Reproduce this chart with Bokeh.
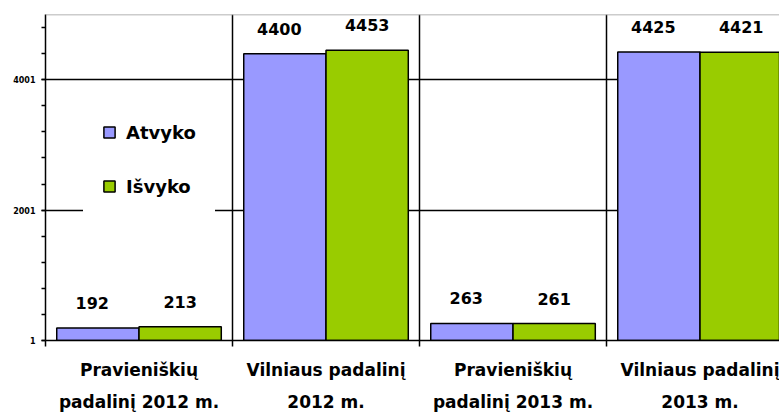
from bokeh.plotting import figure
from bokeh.models import (ColumnDataSource, FixedTicker, LinearAxis, Range1d,
                          Legend, LegendItem, Span)
from bokeh.transform import dodge
from bokeh.core.properties import value
from bokeh.embed import file_html
from bokeh.resources import INLINE

categories = ["Pravieniškių\npadalinį 2012 m.", "Vilniaus padalinį\n2012 m.",
              "Pravieniškių\npadalinį 2013 m.", "Vilniaus padalinį\n2013 m."]
atvyko = [192, 4400, 263, 4425]
isvyko = [213, 4453, 261, 4421]
series_names = ["Atvyko", "Išvyko"]
y_major_ticks = [1, 2001, 4001]
y_minor_step = 400
y_min, y_max = 1, 5001

FONT = "DejaVu Sans"
PURPLE = "#9999FF"
GREEN = "#99CC00"

xc = [i + 0.5 for i in range(len(categories))]
src = ColumnDataSource(dict(
    x=xc,
    atvyko=atvyko,
    isvyko=isvyko,
    atvyko_lbl=[str(v) for v in atvyko],
    isvyko_lbl=[str(v) for v in isvyko],
))

p = figure(width=779, height=414, output_backend="svg", toolbar_location=None,
           x_range=Range1d(0, 3.925), y_range=Range1d(y_min, y_max),
           x_axis_location=None, y_axis_location=None,
           min_border_left=45, min_border_right=0, min_border_top=14,
           min_border_bottom=74)
p.outline_line_color = None
p.background_fill_color = "white"
p.border_fill_color = "white"

bw = 0.44
r1 = p.vbar(x=dodge("x", -bw / 2, range=p.x_range), top="atvyko", bottom=y_min,
            width=bw, source=src, fill_color=PURPLE, line_color="black", line_width=1.5)
r2 = p.vbar(x=dodge("x", bw / 2, range=p.x_range), top="isvyko", bottom=y_min,
            width=bw, source=src, fill_color=GREEN, line_color="black", line_width=1.5)

p.text(x=dodge("x", -bw / 2 - 0.03, range=p.x_range), y="atvyko", text="atvyko_lbl",
       source=src, text_align="center", text_baseline="middle", y_offset=-25,
       text_font=value(FONT), text_font_style="bold", text_font_size="16px",
       text_color="black")
p.text(x=dodge("x", bw / 2, range=p.x_range), y="isvyko", text="isvyko_lbl",
       source=src, text_align="center", text_baseline="middle", y_offset=-25,
       text_font=value(FONT), text_font_style="bold", text_font_size="16px",
       text_color="black")

# y axis
yax = LinearAxis(ticker=FixedTicker(ticks=y_major_ticks,
                                    minor_ticks=list(range(y_min, y_max + 1, y_minor_step))))
yax.axis_line_color = "black"
yax.axis_line_width = 1.5
yax.major_tick_out = 4
yax.major_tick_in = 0
yax.minor_tick_out = 4
yax.minor_tick_in = 0
yax.major_tick_line_width = 1.5
yax.minor_tick_line_width = 1.5
yax.major_label_standoff = 6
yax.major_label_text_font = FONT
yax.major_label_text_font_style = "bold"
yax.major_label_text_font_size = "8px"
yax.major_label_text_color = "black"
p.add_layout(yax, "left")

# x axis: labels at category centres, boundary ticks as minor ticks
xax = LinearAxis(ticker=FixedTicker(ticks=xc, minor_ticks=[0, 1, 2, 3]))
xax.major_label_overrides = {x: c for x, c in zip(xc, categories)}
xax.axis_line_color = "black"
xax.axis_line_width = 1.5
xax.major_tick_line_color = None
xax.major_tick_out = 0
xax.major_tick_in = 0
xax.minor_tick_out = 6
xax.minor_tick_in = 0
xax.minor_tick_line_width = 1.5
xax.minor_tick_line_color = "black"
xax.major_label_standoff = 13
xax.major_label_text_font = FONT
xax.major_label_text_font_style = "bold"
xax.major_label_text_font_size = "17px"
xax.major_label_text_color = "black"
xax.major_label_text_line_height = 1.6
p.add_layout(xax, "below")

p.xgrid.ticker = FixedTicker(ticks=[1, 2, 3])
p.xgrid.grid_line_color = "black"
p.xgrid.grid_line_width = 1.5
p.ygrid.ticker = FixedTicker(ticks=y_major_ticks[1:])
p.ygrid.grid_line_color = "black"
p.ygrid.grid_line_width = 1.5

p.add_layout(Span(location=y_max, dimension="width", line_color="#999999", line_width=1.5))

legend = Legend(items=[LegendItem(label=series_names[0], renderers=[r1]),
                       LegendItem(label=series_names[1], renderers=[r2])],
                location=(38, 124))
legend.background_fill_color = "white"
legend.background_fill_alpha = 1
legend.border_line_color = "white"
legend.border_line_alpha = 1
legend.padding = 18
legend.margin = 0
legend.spacing = 32
legend.glyph_width = 14
legend.glyph_height = 14
legend.label_height = 22
legend.label_standoff = 10
legend.label_text_font = FONT
legend.label_text_font_style = "bold"
legend.label_text_font_size = "18px"
legend.label_text_color = "black"
p.add_layout(legend, "center")

open("out.html", "w").write(file_html(p, INLINE))
